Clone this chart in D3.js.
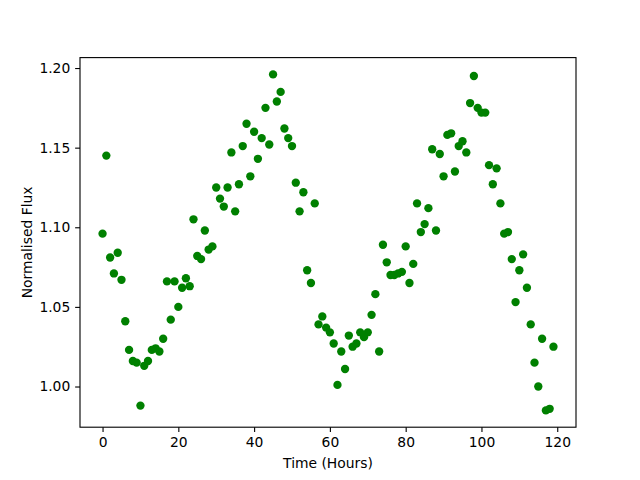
<!DOCTYPE html>
<html>
<head>
<meta charset="utf-8">
<script src="https://cdn.jsdelivr.net/npm/d3@7"></script>
<style>
    body { margin: 0; background: #ffffff; }
    svg { display: block; }
    text { font-family: 'DejaVu Sans', sans-serif; fill: #000000; }
</style>
</head>
<body>
<div id="chart"></div>
<script>
// hours since start of observation
var hours = d3.range(0, 120);

// normalised flux (one value per hour)
var flux = [
    1.096, 1.145, 1.081, 1.071, 1.084, 1.067, 1.041, 1.023, 1.016, 1.015,
    0.988, 1.013, 1.016, 1.023, 1.024, 1.022, 1.030, 1.066, 1.042, 1.066,
    1.050, 1.062, 1.068, 1.063, 1.105, 1.082, 1.080, 1.098, 1.086, 1.088,
    1.125, 1.118, 1.113, 1.125, 1.147, 1.110, 1.127, 1.151, 1.165, 1.132,
    1.160, 1.143, 1.156, 1.175, 1.152, 1.196, 1.179, 1.185, 1.162, 1.156,
    1.151, 1.128, 1.110, 1.122, 1.073, 1.065, 1.115, 1.039, 1.044, 1.037,
    1.034, 1.027, 1.001, 1.022, 1.011, 1.032, 1.025, 1.027, 1.034, 1.031,
    1.034, 1.045, 1.058, 1.022, 1.089, 1.078, 1.070, 1.070, 1.071, 1.072,
    1.088, 1.065, 1.077, 1.115, 1.097, 1.102, 1.112, 1.149, 1.098, 1.146,
    1.132, 1.158, 1.159, 1.135, 1.151, 1.154, 1.147, 1.178, 1.195, 1.175,
    1.172, 1.172, 1.139, 1.127, 1.137, 1.115, 1.096, 1.097, 1.080, 1.053,
    1.073, 1.083, 1.062, 1.039, 1.015, 1.000, 1.030, 0.985, 0.986, 1.025
];

var xTicks = [0, 20, 40, 60, 80, 100, 120];
var yTicks = [1.00, 1.05, 1.10, 1.15, 1.20];

var width = 640, height = 480;
var margin = { top: 57.6, right: 64, bottom: 52.8, left: 80 };
var plotW = width - margin.left - margin.right;
var plotH = height - margin.top - margin.bottom;

// matplotlib-style 5% padding around the data
var pad = function(ext) {
    var d = (ext[1] - ext[0]) * 0.05;
    return [ext[0] - d, ext[1] + d];
};

var x = d3.scaleLinear().domain(pad(d3.extent(hours))).range([0, plotW]);
var y = d3.scaleLinear().domain(pad(d3.extent(flux))).range([plotH, 0]);

var svg = d3.select('#chart').append('svg')
    .attr('width', width)
    .attr('height', height);

var g = svg.append('g')
    .attr('transform', 'translate(' + margin.left + ',' + margin.top + ')');

var points = hours.map(function(h, i) {
    return { t: h, f: flux[i] };
});

g.selectAll('circle.pt')
    .data(points)
    .enter().append('circle')
    .attr('class', 'pt')
    .attr('cx', function(d) { return x(d.t); })
    .attr('cy', function(d) { return y(d.f); })
    .attr('r', 4.17)
    .attr('fill', '#008000');

var tickLen = 4.86;
var fontPx = 13.89;

var xAxis = g.append('g')
    .attr('transform', 'translate(0,' + plotH + ')')
    .call(d3.axisBottom(x).tickValues(xTicks).tickFormat(d3.format('d'))
        .tickSizeInner(tickLen).tickSizeOuter(0).tickPadding(4.86));

var yAxis = g.append('g')
    .call(d3.axisLeft(y).tickValues(yTicks).tickFormat(d3.format('.2f'))
        .tickSizeInner(tickLen).tickSizeOuter(0).tickPadding(4.86));

[xAxis, yAxis].forEach(function(ax) {
    ax.select('.domain').remove();
    ax.selectAll('.tick line').attr('stroke', '#000').attr('stroke-width', 1.11);
    ax.selectAll('.tick text')
        .attr('font-family', "'DejaVu Sans', sans-serif")
        .attr('font-size', fontPx)
        .attr('fill', '#000');
});

// frame
g.append('rect')
    .attr('x', 0)
    .attr('y', 0)
    .attr('width', plotW)
    .attr('height', plotH)
    .attr('fill', 'none')
    .attr('stroke', '#000')
    .attr('stroke-width', 1.11);

svg.append('text')
    .attr('x', margin.left + plotW / 2)
    .attr('y', 468)
    .attr('text-anchor', 'middle')
    .attr('font-size', fontPx)
    .text('Time (Hours)');

svg.append('text')
    .attr('transform', 'translate(32,' + (margin.top + plotH / 2) + ') rotate(-90)')
    .attr('text-anchor', 'middle')
    .attr('font-size', fontPx)
    .text('Normalised Flux');
</script>
</body>
</html>
